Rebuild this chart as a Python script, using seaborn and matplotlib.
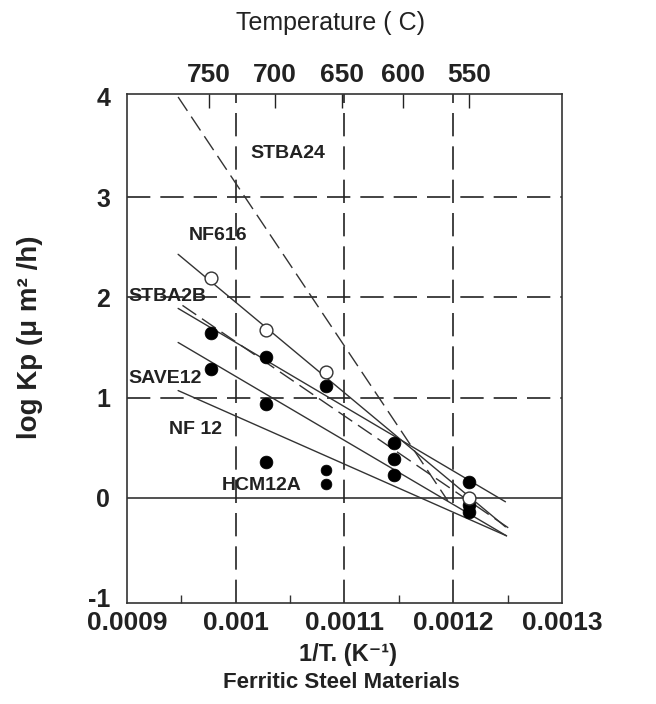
import numpy as np
import pandas as pd
import matplotlib
matplotlib.use("Agg")
import matplotlib.pyplot as plt
import seaborn as sns

# ---------------- data ----------------
open_temp_c = [750, 700, 650, 550]
open_logkp = [2.19, 1.67, 1.26, 0.0]

filled_temp_c = [750, 750, 700, 700, 700, 650, 600, 600, 600, 550, 550, 550]
filled_logkp = [1.64, 1.29, 1.40, 0.94, 0.36, 1.12, 0.55, 0.39, 0.23, 0.16, -0.07, -0.14]

small_temp_c = [650, 650]
small_logkp = [0.28, 0.14]

line_names = ["STBA24", "NF616", "STBA2B", "STBA2B-b", "SAVE12", "NF12"]
line_x0 = [0.000947, 0.000947, 0.000947, 0.000951, 0.000947, 0.000947]
line_x1 = [0.001195, 0.001248, 0.001248, 0.001252, 0.001249, 0.001249]
line_y0 = [4.00, 2.43, 1.89, 1.92, 1.55, 1.07]
line_y1 = [-0.03, -0.29, -0.04, -0.31, -0.38, -0.38]
line_dashed = [True, False, False, True, False, False]

labels_text = ["STBA24", "NF616", "STBA2B", "SAVE12", "NF 12", "HCM12A"]
labels_x = [0.001048, 0.000984, 0.000901, 0.000901, 0.000963, 0.001024]
labels_y = [3.44, 2.62, 2.01, 1.19, 0.68, 0.12]
labels_ha = ["center", "center", "left", "left", "center", "center"]

top_tick_labels = ["750", "700", "650", "600", "550"]
top_tick_pos = [0.0009754, 0.0010361, 0.0010977, 0.0011538, 0.0012145]

x_ticks = [0.0009, 0.001, 0.0011, 0.0012, 0.0013]
x_tick_labels = ["0.0009", "0.001", "0.0011", "0.0012", "0.0013"]
y_ticks = [-1, 0, 1, 2, 3, 4]

# ---------------- style ----------------
sns.set_style("white")
plt.rcParams["font.family"] = ["Liberation Sans", "DejaVu Sans"]
plt.rcParams["font.weight"] = "bold"

fig = plt.figure(figsize=(6.56, 7.04), dpi=100)
ax = fig.add_axes([0.1936, 0.1435, 0.6631, 0.7230])

def inv_t(tc):
    return [1.0 / (t + 273.15) for t in tc]

# grid lines
for gx in [0.001, 0.0011, 0.0012]:
    ax.axvline(gx, color="#222222", lw=1.2, ls=(0, (14, 6)), zorder=1)
for gy in [1, 2, 3]:
    ax.axhline(gy, color="#222222", lw=1.2, ls=(0, (14, 6)), zorder=1)
ax.axhline(0, color="#222222", lw=1.1, zorder=1)

# regression lines
for name, x0, x1, y0, y1, d in zip(line_names, line_x0, line_x1, line_y0, line_y1, line_dashed):
    df = pd.DataFrame({"x": [x0, x1], "y": [y0, y1]})
    sns.lineplot(data=df, x="x", y="y", ax=ax, color="#333333", lw=1.0,
                 linestyle=(0, (12, 5)) if d else "-", zorder=2, legend=False)

# points
sns.scatterplot(x=inv_t(filled_temp_c), y=filled_logkp, ax=ax, marker="o", s=85,
                color="black", edgecolor="black", linewidth=0.5, zorder=4)
sns.scatterplot(x=inv_t(small_temp_c), y=small_logkp, ax=ax, marker="o", s=60,
                color="black", edgecolor="black", linewidth=0.5, zorder=4)
sns.scatterplot(x=inv_t(open_temp_c), y=open_logkp, ax=ax, marker="o", s=85,
                color="white", edgecolor="#333333", linewidth=1.0, zorder=5)

# series labels
for t, lx, ly, ha in zip(labels_text, labels_x, labels_y, labels_ha):
    ax.text(lx, ly, t, ha=ha, va="center", fontsize=14, fontweight="bold", color="#222222", zorder=6)

ax.set_xlim(0.0009, 0.0013)
ax.set_ylim(-1.05, 4.03)
ax.set_xticks(x_ticks)
ax.set_xticklabels(x_tick_labels)
ax.set_yticks(y_ticks)
ax.set_yticklabels([str(v) for v in y_ticks])
ax.set_xticks([0.00095, 0.00105, 0.00115, 0.00125], minor=True)
ax.set_yticks([-0.5, 0.5, 1.5, 2.5, 3.5], minor=True)
ax.tick_params(axis="x", which="major", length=0, pad=6, labelsize=19, colors="#222222")
ax.tick_params(axis="y", which="major", length=0, pad=12, labelsize=18, colors="#222222")
ax.tick_params(axis="x", which="minor", direction="in", length=6, width=1, color="#333333")
ax.tick_params(axis="y", which="minor", direction="in", length=4, width=1, color="#333333")
for lab in ax.get_xticklabels() + ax.get_yticklabels():
    lab.set_fontweight("bold")
ax.set_xlabel("")
ax.set_ylabel("")
for sp in ax.spines.values():
    sp.set_visible(True)
    sp.set_color("#333333")
    sp.set_linewidth(1.2)

# top temperature axis
ax2 = ax.twiny()
ax2.set_xlim(ax.get_xlim())
ax2.set_xticks(top_tick_pos)
ax2.set_xticklabels(top_tick_labels)
ax2.tick_params(axis="x", direction="in", length=10, width=1, pad=5, labelsize=19,
                colors="#222222")
for lab in ax2.get_xticklabels():
    lab.set_fontweight("bold")
for sp in ax2.spines.values():
    sp.set_visible(False)

fig.text(331 / 656, 1 - 23 / 704, "Temperature ( C)", ha="center", va="center",
         fontsize=18, fontweight="medium", color="#222222")
fig.text(348 / 656, 1 - 655 / 704, "1/T. (K\u207b\u00b9)", ha="center", va="center",
         fontsize=17, fontweight="bold", color="#222222")
fig.text(341 / 656, 1 - 683 / 704, "Ferritic Steel Materials", ha="center", va="center",
         fontsize=16, fontweight="bold", color="#222222")
fig.text(30 / 656, 1 - 337 / 704, "log Kp (\u03bc m\u00b2 /h)", ha="center", va="center",
         rotation=90, fontsize=20, fontweight="bold", color="#222222")

fig.savefig("out.png", dpi=100, facecolor="white")
